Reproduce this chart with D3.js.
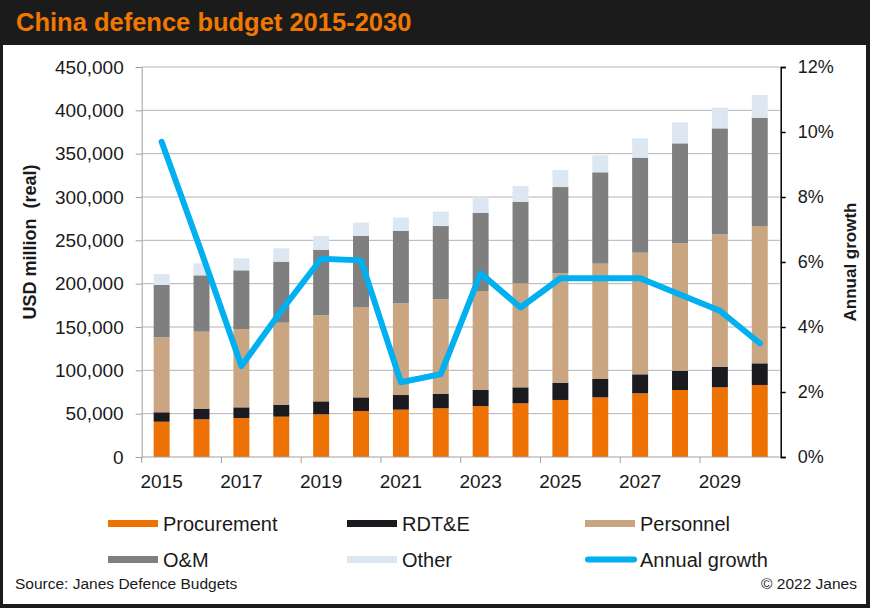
<!DOCTYPE html>
<html>
<head>
<meta charset="utf-8">
<script src="https://cdn.jsdelivr.net/npm/d3@7"></script>
<style>
  body { margin: 0; background: #fff; }
  svg text { font-family: "Liberation Sans", Arial, sans-serif; }
</style>
</head>
<body>
<div id="chart"></div>
<script>

// values (USD million, real)
const years = [2015, 2016, 2017, 2018, 2019, 2020, 2021, 2022, 2023, 2024, 2025, 2026, 2027, 2028, 2029, 2030];
const procurement = [40700, 43500, 45000, 46500, 49200, 53100, 54600, 56200, 58800, 61900, 65800, 68800, 73500, 77300, 80400, 83100];
const rdte = [10900, 12300, 12300, 13900, 15000, 15700, 16900, 16900, 18500, 18500, 20000, 21200, 21900, 22300, 23800, 25000];
const personnel = [86500, 88800, 90400, 94600, 99300, 104300, 105800, 108800, 114200, 120000, 126100, 133100, 140400, 146900, 152700, 158400];
const om = [60400, 65000, 67700, 70400, 75700, 81900, 83500, 84600, 90400, 94200, 99600, 105400, 109600, 115400, 122300, 125000];
const other = [12700, 13900, 13800, 15400, 15800, 15400, 15400, 16600, 18500, 18100, 19700, 19600, 22300, 24300, 23900, 26200];
const growth = [9.7, 6.3, 2.8, 4.5, 6.1, 6.05, 2.3, 2.55, 5.65, 4.6, 5.5, 5.5, 5.5, 5.0, 4.5, 3.5];

const seriesNames = ["Procurement", "RDT&E", "Personnel", "O&M", "Other"];
const leftTicks = [0, 50000, 100000, 150000, 200000, 250000, 300000, 350000, 400000, 450000];
const rightTicks = [0, 2, 4, 6, 8, 10, 12];

const W = 870, H = 608;
const plot = { left: 141.7, right: 779.7, top: 67, bottom: 457 };

const colors = {
    "Procurement": "#ee7103",
    "RDT&E": "#1b1a1e",
    "Personnel": "#c9a582",
    "O&M": "#7f7f7f",
    "Other": "#dde7f1"
};
const lineColor = "#00b0f0";

const rows = years.map((y, i) => ({
    year: y,
    "Procurement": procurement[i],
    "RDT&E": rdte[i],
    "Personnel": personnel[i],
    "O&M": om[i],
    "Other": other[i],
    growth: growth[i]
}));

const svg = d3.select("#chart").append("svg")
    .attr("width", W)
    .attr("height", H);

// frame + title bar
svg.append("rect").attr("width", W).attr("height", H).attr("fill", "#1b1b1b");
svg.append("rect").attr("x", 3).attr("y", 45).attr("width", W - 7).attr("height", H - 49).attr("fill", "#fff");
svg.append("text")
    .attr("x", 16).attr("y", 31)
    .style("font-size", "25.5px").style("font-weight", "bold")
    .attr("fill", "#f07800")
    .text("China defence budget 2015-2030");

// scales
const x = d3.scaleBand()
    .domain(years)
    .range([plot.left, plot.right])
    .paddingInner(0.6)
    .paddingOuter(0.3);

const y = d3.scaleLinear().domain([0, 450000]).range([plot.bottom, plot.top]);
const yR = d3.scaleLinear().domain([0, 12]).range([plot.bottom, plot.top]);

// gridlines
svg.append("g")
    .selectAll("line")
    .data(leftTicks.slice(1))
    .join("line")
    .attr("x1", plot.left).attr("x2", plot.right)
    .attr("y1", d => y(d)).attr("y2", d => y(d))
    .attr("stroke", "#b4b4b4").attr("stroke-width", 1);

// stacked bars
const stack = d3.stack().keys(seriesNames);
const stacked = stack(rows);

svg.append("g")
    .selectAll("g")
    .data(stacked)
    .join("g")
    .attr("fill", d => colors[d.key])
    .selectAll("rect")
    .data(d => d)
    .join("rect")
    .attr("x", d => x(d.data.year))
    .attr("width", x.bandwidth())
    .attr("y", d => y(d[1]))
    .attr("height", d => y(d[0]) - y(d[1]));

// left axis
const leftAxis = svg.append("g")
    .attr("transform", `translate(${plot.left},0)`)
    .call(d3.axisLeft(y).tickValues(leftTicks).tickFormat(d3.format(",")).tickSize(6).tickPadding(12));
leftAxis.select(".domain").attr("stroke", "#a0a0a0");
leftAxis.selectAll(".tick line").attr("stroke", "#a0a0a0");
leftAxis.selectAll("text").style("font-size", "19px").attr("fill", "#1a1a1a");

// bottom axis: labels every other year, ticks between pairs of bars
const step = x.step();
const labelYears = years.filter((d, i) => i % 2 === 0);
svg.append("line")
    .attr("x1", plot.left).attr("x2", plot.right)
    .attr("y1", plot.bottom).attr("y2", plot.bottom)
    .attr("stroke", "#a0a0a0");
svg.append("g")
    .selectAll("line")
    .data(labelYears)
    .join("line")
    .attr("x1", d => x(d) - step * 0.3).attr("x2", d => x(d) - step * 0.3)
    .attr("y1", plot.bottom).attr("y2", plot.bottom + 6)
    .attr("stroke", "#a0a0a0");
svg.append("g")
    .selectAll("text")
    .data(labelYears)
    .join("text")
    .attr("x", d => x(d) + x.bandwidth() / 2)
    .attr("y", 488)
    .attr("text-anchor", "middle")
    .style("font-size", "19px")
    .attr("fill", "#1a1a1a")
    .text(d => d);

// right axis
const rightAxis = svg.append("g")
    .attr("transform", `translate(${plot.right + 1},0)`)
    .call(d3.axisRight(yR).tickValues(rightTicks).tickFormat(d => d + "%").tickSize(5).tickPadding(12));
rightAxis.select(".domain").attr("stroke", "#000").attr("stroke-width", 1.5);
rightAxis.selectAll(".tick line").attr("stroke", "#000").attr("stroke-width", 1.5);
rightAxis.selectAll("text").style("font-size", "18px").attr("fill", "#1a1a1a");

// growth line
const line = d3.line()
    .x(d => x(d.year) + x.bandwidth() / 2)
    .y(d => yR(d.growth));

svg.append("path")
    .datum(rows)
    .attr("fill", "none")
    .attr("stroke", lineColor)
    .attr("stroke-width", 6)
    .attr("stroke-linejoin", "round")
    .attr("stroke-linecap", "round")
    .attr("d", line);

// axis titles
svg.append("text")
    .attr("transform", "translate(36,242) rotate(-90)")
    .attr("text-anchor", "middle")
    .style("font-size", "18px").style("font-weight", "bold")
    .attr("fill", "#1a1a1a")
    .attr("xml:space", "preserve")
    .text("USD million  (real)");

svg.append("text")
    .attr("transform", "translate(856,262) rotate(-90)")
    .attr("text-anchor", "middle")
    .style("font-size", "17px").style("font-weight", "bold")
    .attr("fill", "#1a1a1a")
    .text("Annual growth");

// legend
const legendItems = [
    { name: "Procurement", col: 0, row: 0 },
    { name: "RDT&E", col: 1, row: 0 },
    { name: "Personnel", col: 2, row: 0 },
    { name: "O&M", col: 0, row: 1 },
    { name: "Other", col: 1, row: 1 },
    { name: "Annual growth", col: 2, row: 1, isLine: true }
];
const colX = [108, 347, 585];
const rowY = [523.5, 559.5];

const legend = svg.append("g")
    .selectAll("g")
    .data(legendItems)
    .join("g")
    .attr("transform", d => `translate(${colX[d.col]},${rowY[d.row]})`);

legend.filter(d => !d.isLine).append("rect")
    .attr("x", 0).attr("y", -3.5)
    .attr("width", 50).attr("height", 7)
    .attr("fill", d => colors[d.name]);

legend.filter(d => d.isLine).append("line")
    .attr("x1", 3).attr("x2", 49)
    .attr("stroke", lineColor)
    .attr("stroke-width", 6)
    .attr("stroke-linecap", "round");

legend.append("text")
    .attr("x", 55).attr("y", 7)
    .style("font-size", "20px")
    .attr("fill", "#1a1a1a")
    .text(d => d.name);

// footer
svg.append("text")
    .attr("x", 15).attr("y", 589)
    .style("font-size", "15.5px")
    .attr("fill", "#1a1a1a")
    .text("Source: Janes Defence Budgets");

svg.append("text")
    .attr("x", 857).attr("y", 589)
    .attr("text-anchor", "end")
    .style("font-size", "15.5px")
    .attr("fill", "#1a1a1a")
    .text("\u00a9 2022 Janes");

</script>
</body>
</html>
